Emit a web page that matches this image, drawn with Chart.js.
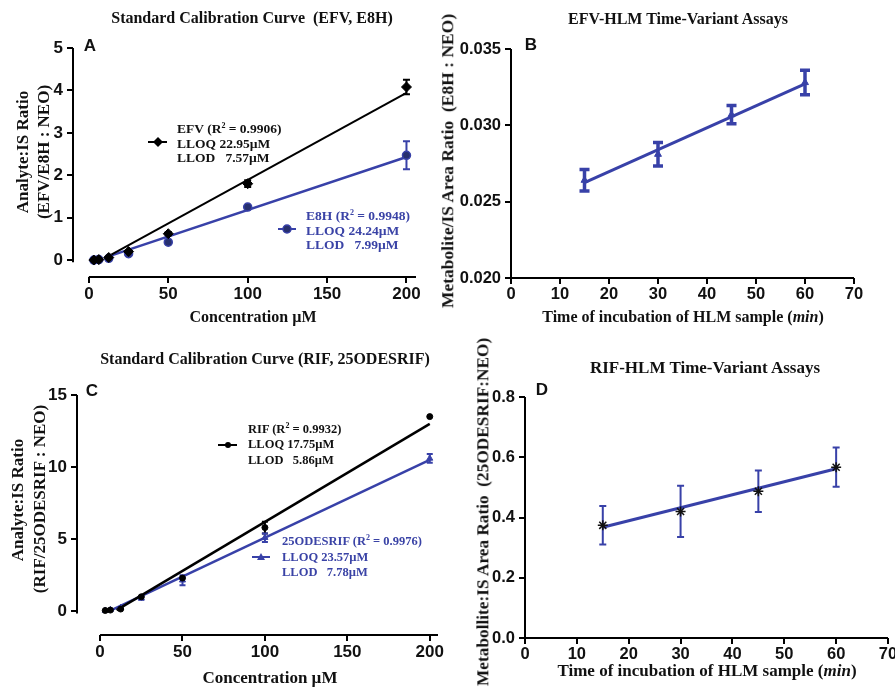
<!DOCTYPE html>
<html>
<head>
<meta charset="utf-8">
<title>Calibration curves and HLM time-variant assays</title>
<script src="https://cdn.jsdelivr.net/npm/chart.js@4.4.0/dist/chart.umd.min.js"></script>
<style>
  body { margin: 0; background: #fff; }
  #fig { position: relative; width: 895px; height: 690px; overflow: hidden; background: #fff;
         font-family: "Liberation Serif", "Times New Roman", serif; font-weight: bold; color: #111; }
  #fig canvas { position: absolute; }
  .t { position: absolute; white-space: pre; line-height: 1; }
  .c { transform: translate(-50%, -50%); }
  .v { transform: translate(-50%, -50%) rotate(-90deg); }
  .letter { font-family: "Liberation Sans", Arial, sans-serif; font-size: 17px; }
  .leg { position: absolute; white-space: pre; font-size: 13.5px; line-height: 14.5px; }
  .leg sup { font-size: 8px; vertical-align: 5px; line-height: 0; }
  .blue { color: #3a43a6; }
  svg { position: absolute; overflow: visible; }
</style>
</head>
<body>
<div id="fig">
  <canvas id="chartA" width="440" height="340" style="left:0;top:0"></canvas>
  <canvas id="chartB" width="455" height="340" style="left:440px;top:0"></canvas>
  <canvas id="chartC" width="470" height="350" style="left:0;top:340px"></canvas>
  <canvas id="chartD" width="480" height="350" style="left:440px;top:340px"></canvas>

  <!-- panel A -->
  <div class="t c" style="left:252px;top:18px;font-size:16px">Standard Calibration Curve  (EFV, E8H)</div>
  <div class="t v" style="left:22px;top:152px;font-size:17px">Analyte:IS Ratio</div>
  <div class="t v" style="left:43px;top:152px;font-size:17px">(EFV/E8H : NEO)</div>
  <div class="t c" style="left:253px;top:317px;font-size:16px">Concentration µM</div>
  <div class="t c letter" style="left:90px;top:45px">A</div>
  <svg style="left:0;top:0" width="1" height="1">
    <line x1="148" y1="142" x2="167" y2="142" stroke="#000" stroke-width="2"/>
    <polygon points="158,137 163,142 158,147 153,142" fill="#000"/>
    <line x1="278" y1="229" x2="296" y2="229" stroke="#3841a8" stroke-width="2"/>
    <circle cx="287" cy="229" r="4" fill="#27306e" stroke="#3841a8" stroke-width="1.5"/>
  </svg>
  <div class="leg" style="left:177px;top:122px">EFV (R<sup>2</sup> = 0.9906)
LLOQ 22.95µM
LLOD   7.57µM</div>
  <div class="leg blue" style="left:306px;top:209px">E8H (R<sup>2</sup> = 0.9948)
LLOQ 24.24µM
LLOD   7.99µM</div>

  <!-- panel B -->
  <div class="t c" style="left:678px;top:19px;font-size:16px">EFV-HLM Time-Variant Assays</div>
  <div class="t v" style="left:448px;top:161px;font-size:17.5px">Metabolite/IS Area Ratio  (E8H : NEO)</div>
  <div class="t c" style="left:683px;top:317px;font-size:16px">Time of incubation of HLM sample (<i>min</i>)</div>
  <div class="t c letter" style="left:531px;top:44px">B</div>

  <!-- panel C -->
  <div class="t c" style="left:265px;top:359px;font-size:16px">Standard Calibration Curve (RIF, 25ODESRIF)</div>
  <div class="t v" style="left:17px;top:500px;font-size:17px">Analyte:IS Ratio</div>
  <div class="t v" style="left:39px;top:499px;font-size:17px">(RIF/25ODESRIF : NEO)</div>
  <div class="t c" style="left:270px;top:677px;font-size:17px">Concentration µM</div>
  <div class="t c letter" style="left:92px;top:390px">C</div>
  <svg style="left:0;top:0" width="1" height="1">
    <line x1="218" y1="445" x2="237" y2="445" stroke="#000" stroke-width="2"/>
    <circle cx="228" cy="445" r="3" fill="#000"/>
    <line x1="252" y1="557" x2="270" y2="557" stroke="#3841a8" stroke-width="2"/>
    <polygon points="261,553 265,560 257,560" fill="#3841a8"/>
  </svg>
  <div class="leg" style="left:248px;top:422px;font-size:12.5px;line-height:15.3px">RIF (R<sup>2</sup> = 0.9932)
LLOQ 17.75µM
LLOD   5.86µM</div>
  <div class="leg blue" style="left:282px;top:534px;font-size:12.5px;line-height:15.5px">25ODESRIF (R<sup>2</sup> = 0.9976)
LLOQ 23.57µM
LLOD   7.78µM</div>

  <!-- panel D -->
  <div class="t c" style="left:705px;top:367px;font-size:17px">RIF-HLM Time-Variant Assays</div>
  <div class="t v" style="left:483px;top:512px;font-size:17.3px">Metabollite:IS Area Ratio  (25ODESRIF:NEO)</div>
  <div class="t c" style="left:707px;top:670px;font-size:17px">Time of incubation of HLM sample (<i>min</i>)</div>
  <div class="t c letter" style="left:542px;top:389px">D</div>
</div>

<script>
// calibration standards (µM), shared by A and C
const conc = [3.125, 6.25, 12.5, 25, 50, 100, 200];
const concTicks = [0, 50, 100, 150, 200];

// A: EFV and E8H response ratios
const efv = [0.0, 0.01, 0.06, 0.2, 0.62, 1.8, 4.08];
const efvSd = [0, 0, 0, 0, 0.04, 0.08, 0.17];
const e8h = [0.0, 0.01, 0.04, 0.15, 0.42, 1.25, 2.47];
const e8hSd = [0, 0, 0, 0.03, 0.03, 0.04, 0.33];
const efvFit = [0.0205, -0.16];   // slope, intercept
const e8hFit = [0.0125, -0.07];
const fitRangeA = [11, 200];
const ticksA = [0, 1, 2, 3, 4, 5];

// C: RIF and 25-O-desacetyl RIF
const rif = [0.05, 0.08, 0.15, 1.0, 2.3, 5.8, 13.5];
const rifSd = [0, 0, 0, 0, 0, 0.4, 0];
const des = [0.05, 0.1, 0.25, 0.9, 2.15, 5.1, 10.6];
const desSd = [0, 0, 0, 0.1, 0.35, 0.3, 0.3];
const rifFit = [0.068, -0.6];
const desFit = [0.054, -0.3];
const rifRange = [10, 200];
const desRange = [6.25, 200];
const ticksC = [0, 5, 10, 15];

// B / D: incubation time course
const time = [15, 30, 45, 60];
const timeTicks = [0, 10, 20, 30, 40, 50, 60, 70];
const e8hRate = [0.0264, 0.0281, 0.0307, 0.0328];
const e8hRateSd = [0.0007, 0.00077, 0.0006, 0.0008];
const e8hRateFit = [0.000144, 0.02408];
const ticksB = [0.020, 0.025, 0.030, 0.035];
const desRate = [0.374, 0.42, 0.487, 0.567];
const desRateSd = [0.064, 0.085, 0.069, 0.065];
const desRateFit = [0.00431, 0.303];
const ticksD = [0.0, 0.2, 0.4, 0.6, 0.8];

const BLUE = '#3841a8';

const pts = (xs, ys) => xs.map((x, i) => ({x, y: ys[i]}));
const fitLine = (fit, range) => range.map(x => ({x, y: fit[0] * x + fit[1]}));

// vertical SD bars with caps, drawn under the markers
const errorBars = {
  id: 'errorBars',
  beforeDatasetsDraw(chart) {
    const {ctx, scales: {x, y}} = chart;
    chart.data.datasets.forEach(ds => {
      if (!ds.errors) return;
      ctx.save();
      ctx.strokeStyle = ds.errorColor || ds.borderColor;
      ctx.lineWidth = ds.errorWidth || 2;
      ds.data.forEach((p, i) => {
        const e = ds.errors[i];
        if (!e) return;
        const px = x.getPixelForValue(p.x);
        const top = y.getPixelForValue(p.y + e);
        const bot = y.getPixelForValue(p.y - e);
        const c = (ds.capWidth || 8) / 2;
        ctx.beginPath();
        ctx.moveTo(px, top); ctx.lineTo(px, bot);
        ctx.moveTo(px - c, top); ctx.lineTo(px + c, top);
        ctx.moveTo(px - c, bot); ctx.lineTo(px + c, bot);
        ctx.stroke();
      });
      ctx.restore();
    });
  }
};

// axis lines; A and C keep the x axis detached below the plot
const frame = {
  id: 'frame',
  afterDraw(chart, args, opts) {
    const {ctx, scales: {x, y}} = chart;
    ctx.save();
    ctx.strokeStyle = '#000';
    ctx.lineWidth = 2;
    ctx.beginPath();
    ctx.moveTo(x.left, y.top);
    ctx.lineTo(x.left, y.getPixelForValue(opts.yStop));
    ctx.moveTo(x.getPixelForValue(opts.xStart), y.bottom);
    ctx.lineTo(x.right, y.bottom);
    ctx.stroke();
    ctx.restore();
  }
};

function axis(a) {
  return {
    type: 'linear',
    min: a.min,
    max: a.max,
    afterBuildTicks: s => { s.ticks = a.ticks.map(v => ({value: v})); },
    afterFit: s => { if (s.isHorizontal()) s.height = a.size; else s.width = a.size; },
    grid: { display: true, drawOnChartArea: false, drawTicks: true, tickLength: 6, color: '#000', lineWidth: 2 },
    border: { display: false },
    ticks: {
      color: '#111',
      padding: a.pad,
      autoSkip: false,
      maxRotation: 0,
      font: { family: '"Liberation Sans", Arial, sans-serif', weight: 'bold', size: a.font },
      callback: v => v.toFixed(a.dec)
    }
  };
}

function panel(id, o) {
  return new Chart(document.getElementById(id), {
    type: 'scatter',
    data: { datasets: o.datasets },
    options: {
      responsive: false,
      animation: false,
      events: [],
      layout: { padding: o.pad },
      plugins: { legend: { display: false }, tooltip: { enabled: false }, frame: o.frame },
      scales: { x: axis(o.x), y: axis(o.y) }
    },
    plugins: [errorBars, frame]
  });
}

panel('chartA', {
  pad: { left: 0, top: 48, right: 24, bottom: 0 },
  frame: { yStop: -0.05, xStart: 0 },
  x: { min: -10, max: 206, ticks: concTicks, dec: 0, size: 63, font: 17, pad: 1 },
  y: { min: -0.4, max: 5, ticks: ticksA, dec: 0, size: 73, font: 17, pad: 4 },
  datasets: [
    { data: pts(conc, efv), errors: efvSd, borderColor: '#000', backgroundColor: '#000',
      pointStyle: 'rectRot', pointRadius: 5, capWidth: 7, errorWidth: 2 },
    { data: pts(conc, e8h), errors: e8hSd, borderColor: BLUE, backgroundColor: '#27306e',
      pointStyle: 'circle', pointRadius: 4, borderWidth: 1.5, capWidth: 7, errorWidth: 2 },
    { data: fitLine(efvFit, fitRangeA), showLine: true, pointRadius: 0, borderColor: '#000', borderWidth: 2 },
    { data: fitLine(e8hFit, fitRangeA), showLine: true, pointRadius: 0, borderColor: BLUE, borderWidth: 2.5 }
  ]
});

panel('chartB', {
  pad: { left: 0, top: 49, right: 41, bottom: 0 },
  frame: { yStop: 0.020, xStart: 0 },
  x: { min: 0, max: 70, ticks: timeTicks, dec: 0, size: 62, font: 16.5, pad: 1 },
  y: { min: 0.020, max: 0.035, ticks: ticksB, dec: 3, size: 71, font: 16.5, pad: 4 },
  datasets: [
    { data: pts(time, e8hRate), errors: e8hRateSd, borderColor: BLUE, backgroundColor: BLUE,
      pointStyle: 'triangle', pointRadius: 4, capWidth: 10, errorWidth: 3.5 },
    { data: fitLine(e8hRateFit, [time[0], time[time.length - 1]]), showLine: true, pointRadius: 0,
      borderColor: BLUE, borderWidth: 3 }
  ]
});

panel('chartC', {
  pad: { left: 0, top: 55, right: 32, bottom: 0 },
  frame: { yStop: -0.15, xStart: 0 },
  x: { min: -14, max: 205, ticks: concTicks, dec: 0, size: 55, font: 17, pad: 1 },
  y: { min: -1.65, max: 15, ticks: ticksC, dec: 0, size: 77, font: 17, pad: 4 },
  datasets: [
    { data: pts(conc, rif), errors: rifSd, borderColor: '#000', backgroundColor: '#000',
      pointStyle: 'circle', pointRadius: 3, capWidth: 6, errorWidth: 2 },
    { data: pts(conc, des), errors: desSd, borderColor: BLUE, backgroundColor: BLUE,
      pointStyle: 'triangle', pointRadius: 3.5, capWidth: 6, errorWidth: 2 },
    { data: fitLine(rifFit, rifRange), showLine: true, pointRadius: 0, borderColor: '#000', borderWidth: 2.5 },
    { data: fitLine(desFit, desRange), showLine: true, pointRadius: 0, borderColor: BLUE, borderWidth: 2.5 }
  ]
});

panel('chartD', {
  pad: { left: 0, top: 57, right: 32, bottom: 0 },
  frame: { yStop: 0, xStart: 0 },
  x: { min: 0, max: 70, ticks: timeTicks, dec: 0, size: 52, font: 16.5, pad: 1 },
  y: { min: 0, max: 0.8, ticks: ticksD, dec: 1, size: 85, font: 16.5, pad: 4 },
  datasets: [
    { data: pts(time, desRate), errors: desRateSd, borderColor: '#111', backgroundColor: '#111',
      errorColor: BLUE, pointStyle: 'star', pointRadius: 5, borderWidth: 1.5, capWidth: 7, errorWidth: 2 },
    { data: fitLine(desRateFit, [time[0], time[time.length - 1]]), showLine: true, pointRadius: 0,
      borderColor: BLUE, borderWidth: 3 }
  ]
});
</script>
</body>
</html>
